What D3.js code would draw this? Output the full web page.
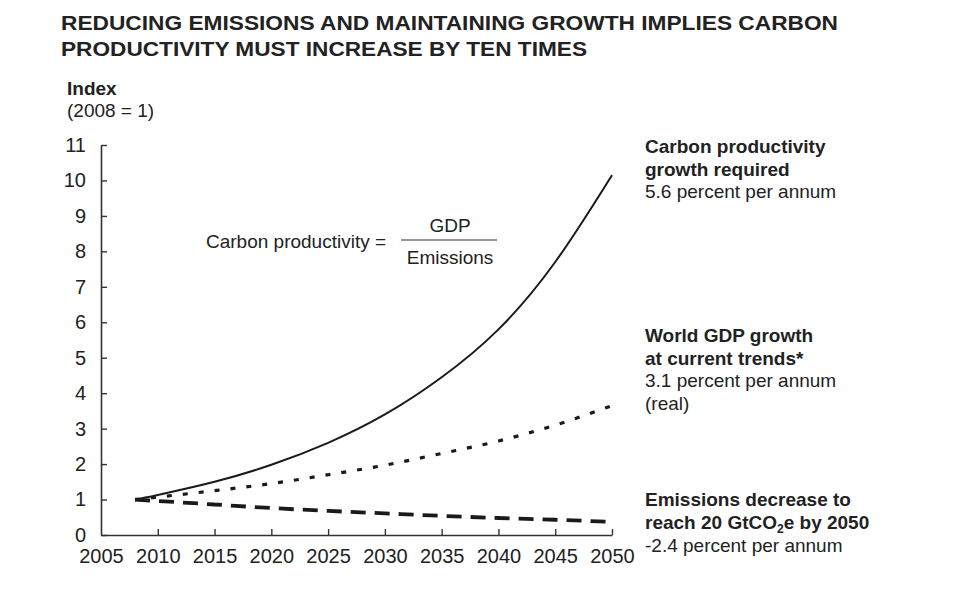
<!DOCTYPE html>
<html>
<head>
<meta charset="utf-8">
<script src="https://cdn.jsdelivr.net/npm/d3@7"></script>
<style>
  html, body { margin: 0; padding: 0; background: #fff; }
  svg { display: block; font-family: "Liberation Sans", Arial, sans-serif; }
</style>
</head>
<body>
<svg id="chart" width="960" height="591"></svg>
<script>
// ---- data ----
const productivityYears  = [2008, 2010, 2015, 2020, 2025, 2030, 2035, 2040, 2045, 2050];
const productivityValues = [1.00, 1.13, 1.50, 1.98, 2.60, 3.40, 4.45, 5.80, 7.70, 10.15];

const gdpYears  = [2008, 2010, 2015, 2020, 2025, 2030, 2035, 2040, 2045, 2050];
const gdpValues = [1.00, 1.07, 1.25, 1.45, 1.70, 1.97, 2.30, 2.65, 3.10, 3.65];

const emissionsYears  = [2008, 2010, 2015, 2020, 2025, 2030, 2035, 2040, 2045, 2050];
const emissionsValues = [1.00, 0.96, 0.86, 0.76, 0.68, 0.61, 0.54, 0.48, 0.43, 0.37];

const xTicks = [2005, 2010, 2015, 2020, 2025, 2030, 2035, 2040, 2045, 2050];
const yTicks = [0, 1, 2, 3, 4, 5, 6, 7, 8, 9, 10, 11];

const titleLines = ["REDUCING EMISSIONS AND MAINTAINING GROWTH IMPLIES CARBON",
                    "PRODUCTIVITY MUST INCREASE BY TEN TIMES"];

// ---- drawing ----
const svg = d3.select("#chart");
const ink = "#222";

const x = d3.scaleLinear().domain([2005, 2050]).range([101, 612]);
const y = d3.scaleLinear().domain([0, 11]).range([535, 145]);

// title
const titleWidths = [777, 526];
titleLines.forEach((t, i) => {
  svg.append("text")
    .attr("x", 61).attr("y", 30 + i * 26)
    .attr("font-size", 21).attr("font-weight", "bold")
    .attr("fill", ink)
    .attr("textLength", titleWidths[i])
    .attr("lengthAdjust", "spacingAndGlyphs")
    .text(t);
});

// y-axis label
svg.append("text").attr("x", 67).attr("y", 95).attr("font-size", 19)
  .attr("font-weight", "bold").attr("fill", ink).text("Index");
svg.append("text").attr("x", 67).attr("y", 117).attr("font-size", 19)
  .attr("fill", ink).text("(2008 = 1)");

// axes
const yAxis = d3.axisLeft(y).tickValues(yTicks).tickSize(-6).tickSizeOuter(0).tickPadding(15);
const xAxis = d3.axisBottom(x).tickValues(xTicks).tickFormat(d3.format("d")).tickSize(-6).tickSizeOuter(0).tickPadding(14);

const gy = svg.append("g").attr("transform", `translate(${x(2005)},0)`).call(yAxis);
const gx = svg.append("g").attr("transform", `translate(0,${y(0)})`).call(xAxis);
[gx, gy].forEach(g => {
  g.select(".domain").attr("stroke", "#333").attr("stroke-width", 1.6);
  g.selectAll(".tick line").attr("stroke", "#333").attr("stroke-width", 1.4);
  g.selectAll(".tick text").attr("font-size", 20).attr("fill", ink)
    .attr("font-family", "Liberation Sans, Arial, sans-serif");
});
gx.selectAll(".tick").filter(d => d === 2005).select("line").remove();

// lines
const line = d3.line().x(d => x(d[0])).y(d => y(d[1])).curve(d3.curveMonotoneX);
const smoothLine = d3.line().x(d => x(d[0])).y(d => y(d[1])).curve(d3.curveNatural);

svg.append("path")
  .datum(d3.zip(productivityYears, productivityValues))
  .attr("fill", "none").attr("stroke", "#1a1a1a").attr("stroke-width", 2)
  .attr("d", smoothLine);

svg.append("path")
  .datum(d3.zip(gdpYears, gdpValues))
  .attr("fill", "none").attr("stroke", "#1a1a1a").attr("stroke-width", 3.2)
  .attr("stroke-dasharray", "5,11")
  .attr("d", line);

svg.append("path")
  .datum(d3.zip(emissionsYears, emissionsValues))
  .attr("fill", "none").attr("stroke", "#1a1a1a").attr("stroke-width", 3.8)
  .attr("stroke-dasharray", "15,9")
  .attr("d", line);

// formula
svg.append("text").attr("x", 206).attr("y", 248).attr("font-size", 19)
  .attr("fill", ink).text("Carbon productivity =");
svg.append("text").attr("x", 450).attr("y", 232).attr("font-size", 19)
  .attr("text-anchor", "middle").attr("fill", ink).text("GDP");
svg.append("line").attr("x1", 401).attr("x2", 497).attr("y1", 240).attr("y2", 240)
  .attr("stroke", "#333").attr("stroke-width", 1.2);
svg.append("text").attr("x", 450).attr("y", 264).attr("font-size", 19)
  .attr("text-anchor", "middle").attr("fill", ink).text("Emissions");

// right-side annotations
const annotations = [
  { y0: 153, lines: [["Carbon productivity", true], ["growth required", true], ["5.6 percent per annum", false]] },
  { y0: 342, lines: [["World GDP growth", true], ["at current trends*", true], ["3.1 percent per annum", false], ["(real)", false]] },
];
annotations.forEach(a => {
  a.lines.forEach((l, i) => {
    svg.append("text").attr("x", 645).attr("y", a.y0 + i * 22.5)
      .attr("font-size", 19).attr("font-weight", l[1] ? "bold" : "normal")
      .attr("fill", ink).text(l[0]);
  });
});
svg.append("text").attr("x", 645).attr("y", 506).attr("font-size", 19)
  .attr("font-weight", "bold").attr("fill", ink).text("Emissions decrease to");
const t2 = svg.append("text").attr("x", 645).attr("y", 529).attr("font-size", 19)
  .attr("font-weight", "bold").attr("fill", ink);
t2.append("tspan").text("reach 20 GtCO");
t2.append("tspan").attr("font-size", 12).attr("dy", 4).text("2");
t2.append("tspan").attr("dy", -4).text("e by 2050");
svg.append("text").attr("x", 645).attr("y", 552).attr("font-size", 19)
  .attr("fill", ink).text("-2.4 percent per annum");
</script>
</body>
</html>
